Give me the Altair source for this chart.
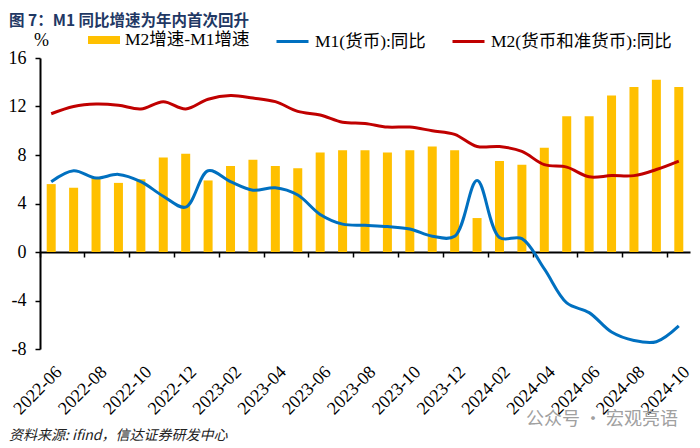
import altair as alt
import pandas as pd

months = ["2022-06", "2022-07", "2022-08", "2022-09", "2022-10", "2022-11", "2022-12",
          "2023-01", "2023-02", "2023-03", "2023-04", "2023-05", "2023-06", "2023-07",
          "2023-08", "2023-09", "2023-10", "2023-11", "2023-12",
          "2024-01", "2024-02", "2024-03", "2024-04", "2024-05", "2024-06", "2024-07",
          "2024-08", "2024-09", "2024-10"]
gap = [5.6, 5.3, 6.1, 5.7, 6.0, 7.8, 8.1, 5.9, 7.1, 7.6, 7.1, 6.9, 8.2, 8.4,
       8.4, 8.2, 8.4, 8.7, 8.4, 2.8, 7.5, 7.2, 8.6, 11.2, 11.2, 12.9, 13.6, 14.2, 13.6]
m1 = [5.8, 6.7, 6.1, 6.4, 5.8, 4.6, 3.7, 6.7, 5.8, 5.1, 5.3, 4.7, 3.1, 2.3,
      2.2, 2.1, 1.9, 1.3, 1.3, 5.9, 1.2, 1.1, -1.4, -4.2, -5.0, -6.6, -7.3, -7.4, -6.1]
m2 = [11.4, 12.0, 12.2, 12.1, 11.8, 12.4, 11.8, 12.6, 12.9, 12.7, 12.4, 11.6, 11.3, 10.7,
      10.6, 10.3, 10.3, 10.0, 9.7, 8.7, 8.7, 8.3, 7.2, 7.0, 6.2, 6.3, 6.3, 6.8, 7.5]
bar_name = "M2增速-M1增速"
line_names = ["M1(货币):同比", "M2(货币和准货币):同比"]
x_labels = months[::2]
y_ticks = [-8, -4, 0, 4, 8, 12, 16]
title_text = "图 7：M1 同比增速为年内首次回升"
source_text = "资料来源: ifind，信达证券研发中心"
mark_text = "公众号 · 宏观亮语"

SERIF = "'Liberation Serif', 'Noto Sans CJK SC', serif"
SANS = "'Noto Sans CJK SC', sans-serif"
W, H = 650, 291
step = W / len(months)
neg_px = H * 8 / 24

bar_df = pd.DataFrame({"month": months, "value": gap, "series": [bar_name] * len(months)})
line_df = pd.DataFrame({
    "month": months * 2,
    "value": m1 + m2,
    "series": [line_names[0]] * len(months) + [line_names[1]] * len(months),
})

x_enc = alt.X(
    "month:O", sort=months,
    scale=alt.Scale(paddingInner=0, paddingOuter=0),
    axis=alt.Axis(
        title=None, values=x_labels, bandPosition=0, labelOffset=step / 2 - 3,
        labelAngle=-45, labelAlign="right", labelBaseline="middle",
        labelPadding=112, offset=-neg_px, tickSize=5, tickWidth=1.5, tickColor="black",
        domainColor="black", domainWidth=2, labelFont=SERIF, labelFontSize=18,
        labelColor="black", labelOverlap=False, labelFlush=False, labelBound=False,
    ),
)
y_enc = alt.Y(
    "value:Q",
    scale=alt.Scale(domain=[-8, 16], nice=False, zero=False),
    axis=alt.Axis(
        values=y_ticks, grid=False, title="%", titleAngle=0, titleX=1, titleY=-18,
        titleAlign="center", titleBaseline="middle", titleFont=SERIF, titleFontSize=18,
        titleFontWeight="normal", titleColor="black",
        labelExpr="'' + datum.value", labelFont=SERIF, labelFontSize=18, labelColor="black",
        labelPadding=9, tickSize=5, tickWidth=1.5, tickColor="black",
        domainColor="black", domainWidth=2,
    ),
)

bars = alt.Chart(bar_df).mark_bar(size=9).encode(
    x=x_enc, y=y_enc,
    color=alt.Color(
        "series:N",
        scale=alt.Scale(domain=[bar_name], range=["#FFC000"]),
        legend=alt.Legend(
            orient="none", legendX=48, legendY=-34, title=None, direction="horizontal",
            symbolType="M-1,-0.25H1V0.25H-1Z", symbolSize=1024, symbolStrokeWidth=0,
            labelFont=SERIF, labelFontSize=17.5, labelColor="black", labelOffset=5, padding=0,
        ),
    ),
)

lines = alt.Chart(line_df).mark_line(strokeWidth=3, interpolate="catmull-rom").encode(
    x=x_enc, y=y_enc,
    color=alt.Color(
        "series:N", sort=line_names,
        scale=alt.Scale(domain=line_names, range=["#0070C0", "#C00000"]),
        legend=alt.Legend(
            orient="none", legendX=235, legendY=-34, title=None, direction="horizontal",
            symbolType="stroke", symbolSize=1024, symbolStrokeWidth=3,
            labelFont=SERIF, labelFontSize=17.5, labelColor="black", labelOffset=5,
            columnPadding=20, padding=0, labelLimit=300,
        ),
    ),
)

title = alt.Chart(pd.DataFrame({"t": [title_text]})).mark_text(
    align="left", baseline="middle", font=SANS, fontSize=15.5, fontWeight="bold",
    color="#1F3864",
).encode(text="t:N", x=alt.value(-31), y=alt.value(-37))

source = alt.Chart(pd.DataFrame({"t": [source_text]})).mark_text(
    align="left", baseline="middle", font=SANS, fontSize=14, fontStyle="italic",
    color="#222222",
).encode(text="t:N", x=alt.value(-31), y=alt.value(378))

wm = alt.Chart(pd.DataFrame({"t": [mark_text]})).mark_text(
    align="right", baseline="middle", font=SANS, fontSize=18, color="#A0A0A0",
).encode(text="t:N", x=alt.value(638), y=alt.value(362))

chart = alt.layer(bars, lines, title, source, wm).resolve_scale(color="independent").properties(
    width=W, height=H,
    autosize=alt.AutoSizeParams(type="none"),
    padding={"left": 32, "top": 50, "right": 2, "bottom": 99},
).configure_view(stroke=None)

chart.save("out.html", embed_options={"renderer": "svg", "actions": False})
